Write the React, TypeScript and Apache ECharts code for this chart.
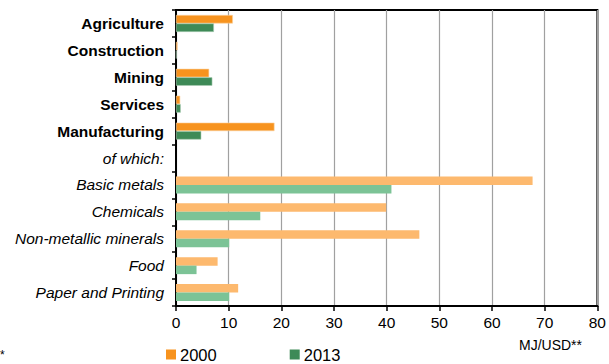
import React, { useEffect, useRef } from "react";
import * as echarts from "echarts";

const categories = [
  "Agriculture",
  "Construction",
  "Mining",
  "Services",
  "Manufacturing",
  "of which:",
  "Basic metals",
  "Chemicals",
  "Non-metallic minerals",
  "Food",
  "Paper and Printing",
];
const values2000 = [10.8, 0.3, 6.3, 0.8, 18.7, null, 67.7, 39.9, 46.2, 7.9, 11.8];
const values2013 = [7.2, 0.1, 6.9, 0.9, 4.8, null, 40.9, 16.0, 10.1, 3.9, 10.1];
const xTicks = [0, 10, 20, 30, 40, 50, 60, 70, 80];
const seriesNames = ["2000", "2013"];

const FONT = "'Liberation Sans', Arial, sans-serif";
const DARK = ["#F7931E", "#3E8A57"];
const LIGHT = ["#FDB96E", "#7CC396"];
const DARK_BORDER = ["#FBD3A2", "#A9CDB4"];
const LIGHT_BORDER = ["#FEDDB5", "#BFE2CB"];

function buildData(vals: (number | null)[], s: number) {
  return vals.map((v, i) => ({
    value: v,
    itemStyle: {
      color: i < 5 ? DARK[s] : LIGHT[s],
      borderColor: i < 5 ? DARK_BORDER[s] : LIGHT_BORDER[s],
      borderWidth: i < 5 ? 0.6 : 0,
    },
  }));
}

export default function App() {
  const ref = useRef<HTMLDivElement>(null);
  useEffect(() => {
    if (!ref.current) return;
    const chart = echarts.init(ref.current, null, { renderer: "svg" });
    chart.setOption({
      animation: false,
      textStyle: { fontFamily: FONT },
      grid: {
        left: 176,
        right: 9,
        top: 10,
        bottom: 58,
        show: true,
        borderColor: "#000",
        borderWidth: 2,
        backgroundColor: "transparent",
      },
      legend: {
        left: 166,
        top: 346,
        padding: 0,
        icon: "rect",
        itemWidth: 10,
        itemHeight: 10,
        itemGap: 73,
        data: seriesNames,
        textStyle: { fontSize: 16.5, color: "#000", fontFamily: FONT, padding: [0, 0, 0, -1] },
      },
      xAxis: {
        type: "value",
        min: xTicks[0],
        max: xTicks[xTicks.length - 1],
        interval: 10,
        axisLine: { show: true, lineStyle: { color: "#000", width: 2 } },
        axisTick: { show: true, length: 5, lineStyle: { color: "#000", width: 1.5 } },
        axisLabel: { fontSize: 15.5, color: "#000", margin: 8, fontFamily: FONT },
        splitLine: { show: true, lineStyle: { color: "#A0A0A0", width: 1.2 } },
      },
      yAxis: {
        type: "category",
        data: categories,
        inverse: true,
        axisLine: { show: true, lineStyle: { color: "#000", width: 2 } },
        axisTick: { show: true, length: 4, lineStyle: { color: "#000", width: 1.5 } },
        axisLabel: {
          margin: 12,
          color: "#000",
          fontFamily: FONT,
          formatter: (v: string, i: number) => (i < 5 ? `{b|${v}}` : `{i|${v}}`),
          rich: {
            b: { fontSize: 15.5, fontWeight: "bold", color: "#000", fontFamily: FONT },
            i: { fontSize: 15.5, fontStyle: "italic", color: "#000", fontFamily: FONT },
          },
        },
      },
      series: [
        {
          name: seriesNames[0],
          type: "bar",
          barWidth: 8.5,
          barGap: "0%",
          itemStyle: { color: DARK[0] },
          data: buildData(values2000, 0),
        },
        {
          name: seriesNames[1],
          type: "bar",
          barWidth: 8.5,
          barGap: "0%",
          itemStyle: { color: DARK[1] },
          data: buildData(values2013, 1),
        },
      ],
      graphic: [
        {
          type: "text",
          left: 519,
          top: 338,
          style: { text: "MJ/USD**", fill: "#000", font: `14px ${FONT}` },
        },
        {
          type: "text",
          left: 0,
          top: 349,
          style: { text: "*", fill: "#000", font: `12px ${FONT}` },
        },
      ],
    });
    return () => chart.dispose();
  }, []);
  return (
    <div
      ref={ref}
      style={{ position: "fixed", left: 0, top: 0, width: 609, height: 364, background: "#fff" }}
    />
  );
}
